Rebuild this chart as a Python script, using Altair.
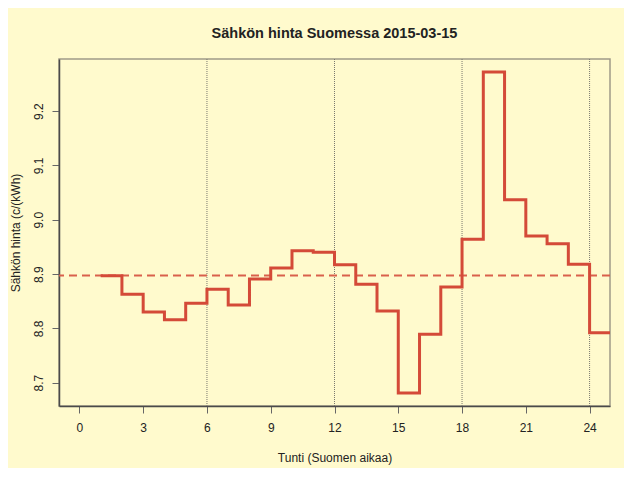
import altair as alt
import pandas as pd

# Data
hours = list(range(1, 25))
prices = [8.897, 8.863, 8.830, 8.816, 8.846, 8.872, 8.843, 8.891, 8.911, 8.943,
          8.940, 8.917, 8.881, 8.832, 8.681, 8.789, 8.876, 8.964, 9.272, 9.037,
          8.970, 8.956, 8.918, 8.792]
x_ticks = [0, 3, 6, 9, 12, 15, 18, 21, 24]
y_ticks = [8.7, 8.8, 8.9, 9.0, 9.1, 9.2]
grid_hours = [6, 12, 18, 24]

TITLE = "Sähkön hinta Suomessa 2015-03-15"
XTITLE = "Tunti (Suomen aikaa)"
YTITLE = "Sähkön hinta (c/(kWh)"

# step-after line: last hour extends one hour to the right
step_df = pd.DataFrame({"hour": hours + [hours[-1] + 1],
                        "price": prices + [prices[-1]]})
price_df = pd.DataFrame({"hour": hours, "price": prices})
vline_df = pd.DataFrame({"hour": grid_hours})

FONT = "Liberation Sans"
RED = "#d44a38"

xscale = alt.Scale(domain=[-0.96, 24.96], nice=False, zero=False)
yscale = alt.Scale(domain=[8.657, 9.296], nice=False, zero=False)

xaxis = alt.Axis(values=x_ticks, title=XTITLE, grid=False, tickSize=7,
                 labelPadding=9, titlePadding=19, labelFlush=False)
yaxis = alt.Axis(values=y_ticks, title=YTITLE, grid=False, tickSize=7,
                 format=".1f", labelAngle=270, labelAlign="center",
                 labelBaseline="bottom", labelPadding=7, titlePadding=10)

vlines = alt.Chart(vline_df).mark_rule(
    color="#7a786e", strokeWidth=1, strokeDash=[1, 1]
).encode(x=alt.X("hour:Q", scale=xscale, axis=xaxis))

mean_line = alt.Chart(price_df).mark_rule(
    color="#d9604c", strokeWidth=2, strokeDash=[8, 5]
).encode(y=alt.Y("mean(price):Q", scale=yscale, axis=yaxis))

step_line = alt.Chart(step_df).mark_line(
    interpolate="step-after", color=RED, strokeWidth=3, clip=True
).encode(
    x=alt.X("hour:Q", scale=xscale, axis=xaxis),
    y=alt.Y("price:Q", scale=yscale, axis=yaxis),
)

chart = alt.layer(vlines, mean_line, step_line).properties(
    width=551, height=347,
    title=alt.TitleParams(TITLE, fontSize=14.5, font=FONT, fontWeight="bold",
                          color="#222222", offset=17, anchor="middle"),
    padding={"left": 51, "top": 51, "right": 14, "bottom": 62},
    autosize=alt.AutoSizeParams(type="none"),
    background="#fffacd",
).configure_view(
    stroke="#a09a88", strokeWidth=1.5
).configure_axis(
    labelFont=FONT, titleFont=FONT, labelFontSize=12, titleFontSize=12,
    labelColor="#222222", titleColor="#222222", titleFontWeight="normal",
    domainColor="#4a4a4a", tickColor="#666666", domainWidth=1.5, tickWidth=1,
)

chart.save("out.html", embed_options={"renderer": "svg", "actions": False})
